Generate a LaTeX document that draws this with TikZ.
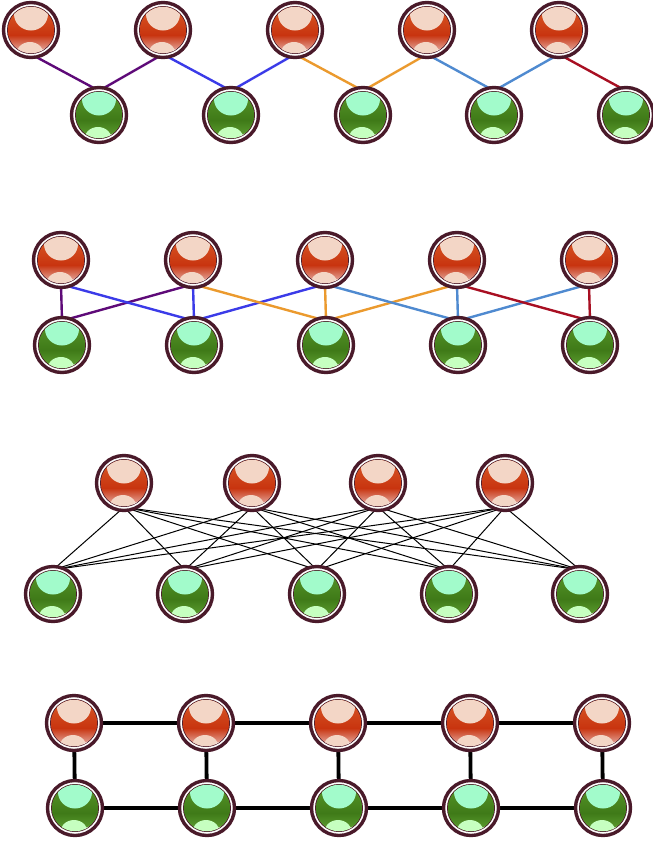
\documentclass[tikz,border=0pt]{standalone}
\usetikzlibrary{backgrounds,calc}
\definecolor{ringc}{HTML}{4A1A2A}
\definecolor{ePurple}{HTML}{5E0A78}
\definecolor{eBlue}{HTML}{3B3BE8}
\definecolor{eOrange}{HTML}{EB9A2E}
\definecolor{eSteel}{HTML}{4F8AD0}
\definecolor{eRed}{HTML}{A80F22}
\definecolor{rTop}{HTML}{D85A28}
\definecolor{rMid}{HTML}{C8340F}
\definecolor{rLow}{HTML}{E2A095}
\definecolor{rHi}{HTML}{F3D6C6}
\definecolor{rBand}{HTML}{E8836C}
\definecolor{gTop}{HTML}{58962A}
\definecolor{gMid}{HTML}{3F7A18}
\definecolor{gLow}{HTML}{5A9A2E}
\definecolor{gHi}{HTML}{A2FBCB}
\definecolor{gHiB}{HTML}{C6FFC0}
\tikzset{
  ballnode/.style={circle,inner sep=0pt,minimum size=55pt,draw=ringc,line width=3.4pt,fill=white},
  coloured/.style={line width=2.4pt},
  thinedge/.style={line width=1pt,black},
  thickedge/.style={line width=3.8pt,black}
}
% \ballbody{name}{x}{y}{top}{mid}{bottom}{highlight}{lowhighlight}
\newcommand{\ballbody}[8]{%
  \node[ballnode] (#1) at (#2,#3) {};
  \fill[ringc] (#2,#3) circle[radius=24];
  \begin{scope}
    \clip (#2,#3) circle[radius=23.2];
    \shade[top color=#4,bottom color=#5] ($(#2,#3)+(-24,-24)$) rectangle ($(#2,#3)+(24,5)$);
    \shade[top color=#5,bottom color=#6] ($(#2,#3)+(-24,5)$) rectangle ($(#2,#3)+(24,20)$);
    \fill[#6] ($(#2,#3)+(-24,20)$) rectangle ($(#2,#3)+(24,24)$);
    \fill[#7] ($(#2,#3)+(0,-16)$) ellipse[x radius=17,y radius=16.5];
    \fill[#8] ($(#2,#3)+(-1,26)$) ellipse[x radius=14.5,y radius=14];
    \fill[white] ($(#2,#3)+(9,21)$) -- ($(#2,#3)+(21,15)$) -- ($(#2,#3)+(19,24)$) -- cycle;
  \end{scope}
}
\newcommand{\redball}[3]{\ballbody{#1}{#2}{#3}{rTop}{rMid}{rLow}{rHi}{rHi}}
\newcommand{\greenball}[3]{\ballbody{#1}{#2}{#3}{gTop}{gMid}{gLow}{gHi}{gHiB}}
\begin{document}
\begin{tikzpicture}[x=1pt,y=-1pt]
\useasboundingbox (0,0) rectangle (653,841);
\clip (0,0) rectangle (653,841);
% row A
\foreach \n/\x in {1/31,2/163,3/295,4/427,5/559}{\redball{ar\n}{\x}{30}}
\foreach \n/\x in {1/99,2/231,3/363,4/494,5/626}{\greenball{ag\n}{\x}{115}}
% row B
\foreach \n/\x in {1/61,2/193,3/325,4/457,5/589}{\redball{br\n}{\x}{260}}
\foreach \n/\x in {1/62,2/194,3/326,4/458,5/590}{\greenball{bg\n}{\x}{345}}
% row C
\foreach \n/\x in {1/124,2/252,3/378,4/505}{\redball{cr\n}{\x}{483}}
\foreach \n/\x in {1/53,2/185,3/317,4/449,5/580}{\greenball{cg\n}{\x}{594}}
% row D
\foreach \n/\x in {1/74,2/206,3/338,4/470,5/602}{\redball{dr\n}{\x}{723}}
\foreach \n/\x in {1/75,2/207,3/339,4/471,5/603}{\greenball{dg\n}{\x}{808}}
\begin{pgfonlayer}{background}
% row A
\foreach \a/\b/\c in {1/1/ePurple,2/1/ePurple,2/2/eBlue,3/2/eBlue,3/3/eOrange,4/3/eOrange,4/4/eSteel,5/4/eSteel,5/5/eRed}
  \draw[coloured,\c] ([yshift=5pt]ar\a.south) -- ([yshift=-5pt]ag\b.north);
% row B
\foreach \a/\b/\c in {1/1/ePurple,2/1/ePurple,1/2/eBlue,2/2/eBlue,3/2/eBlue,2/3/eOrange,3/3/eOrange,4/3/eOrange,3/4/eSteel,4/4/eSteel,5/4/eSteel,4/5/eRed,5/5/eRed}
  \draw[coloured,\c] ([yshift=5pt]br\a.south) -- ([yshift=-5pt]bg\b.north);
% row C
\foreach \a in {1,2,3,4}\foreach \b in {1,2,3,4,5}
  \draw[thinedge] ([yshift=5pt]cr\a.south) -- ([yshift=-5pt]cg\b.north);
% row D
\foreach \a in {1,2,3,4,5}\draw[thickedge] (dr\a) -- (dg\a);
\foreach \a/\b in {1/2,2/3,3/4,4/5}{\draw[thickedge] (dr\a) -- (dr\b);\draw[thickedge] (dg\a) -- (dg\b);}
\end{pgfonlayer}
\end{tikzpicture}
\end{document}
